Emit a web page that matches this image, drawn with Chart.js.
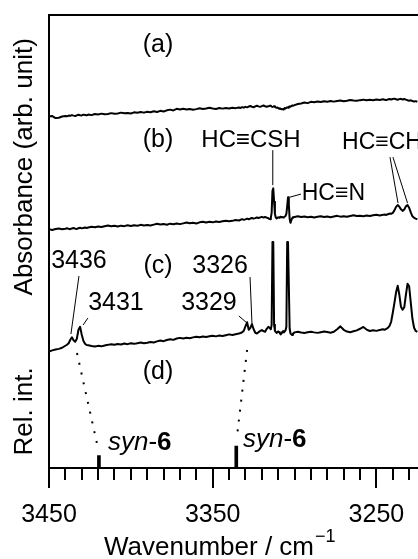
<!DOCTYPE html>
<html>
<head>
<meta charset="utf-8">
<script src="https://cdn.jsdelivr.net/npm/chart.js@4.4.1/dist/chart.umd.min.js"></script>
<style>
  html, body { margin: 0; padding: 0; background: #fff; }
  #wrap { width: 418px; height: 559px; position: relative; }
</style>
</head>
<body>
<div id="wrap"><canvas id="c"></canvas></div>
<script>
// wavenumber grid (cm-1), finer around the bands
var wavenumbers = [
  3450, 3448, 3446, 3444, 3442, 3440,
  3439, 3438, 3437, 3436, 3435, 3434, 3433, 3432, 3431, 3430, 3429, 3428, 3427,
  3426, 3424, 3422, 3420, 3418, 3416, 3414, 3412, 3410, 3408, 3406, 3404, 3402, 3400, 3398, 3396, 3394, 3392, 3390, 3388, 3386, 3384, 3382, 3380, 3378, 3376, 3374, 3372, 3370, 3368, 3366, 3364, 3362, 3360, 3358, 3356, 3354, 3352, 3350, 3348, 3346, 3344, 3342, 3340, 3338, 3336, 3334,
  3333, 3332, 3331, 3330, 3329, 3328, 3327, 3326, 3325, 3324, 3323, 3322, 3321, 3320, 3319, 3318, 3317,
  3316, 3315.5, 3315, 3314.5, 3314, 3313.5, 3313, 3312.5, 3312, 3311.5, 3311, 3310.5, 3310, 3309.5, 3309, 3308.5, 3308, 3307.5, 3307, 3306.5, 3306, 3305.5, 3305, 3304.5, 3304, 3303.5, 3303, 3302.5, 3302, 3301.5, 3301,
  3300, 3298, 3296, 3294, 3292, 3290, 3288, 3286, 3284, 3282, 3280, 3278, 3276, 3274, 3272, 3270, 3268, 3266, 3264, 3262, 3260, 3258, 3256, 3254, 3252, 3250, 3248, 3246,
  3245, 3244, 3243, 3242, 3241, 3240, 3239, 3238, 3237, 3236, 3235, 3234, 3233, 3232, 3231, 3230, 3229, 3228, 3227, 3226, 3225
];

// absorbance traces (arb. unit, before offset)
var absA = [
  8.3, 8.9, 6.9, 7.2, 8.4, 8.9,
  8.6, 9.4, 9.1, 9.8, 9.3, 8.9, 9.6, 10.2, 9.7, 9.5, 10.3, 10.0, 9.6,
  10.4, 9.8, 10.9, 10.5, 11.3, 10.6, 11.0, 11.8, 11.1, 11.5, 12.3, 11.6, 12.0, 11.4, 12.6, 12.1, 12.9, 12.3, 13.1, 12.7, 13.6, 13.0, 14.1, 13.4, 14.6, 15.3, 14.5, 16.1, 15.4, 16.2, 15.5, 16.0, 15.2, 15.8, 16.6, 15.9, 16.4, 17.2, 16.5, 16.0, 16.9, 16.3, 17.0, 16.4, 17.1, 16.8, 17.5,
  17.0, 17.8, 17.3, 18.1, 17.6, 18.4, 18.9, 18.2, 17.7, 18.5, 19.2, 18.6, 18.1, 18.8, 19.4, 18.7, 18.2,
  18.6, 18.9, 19.3, 19.0, 18.4, 18.0, 18.3, 18.7, 18.1, 17.6, 17.2, 17.5, 16.9, 16.3, 16.6, 16.0, 15.6, 15.9, 15.5, 16.2, 16.8, 16.4, 17.1, 17.6, 17.3, 18.0, 18.5, 18.2, 18.9, 19.4, 19.1,
  19.8, 20.9, 21.5, 22.4, 21.8, 23.1, 22.6, 23.4, 22.9, 23.7, 23.2, 24.0, 23.3, 23.9, 24.4, 23.6, 24.2, 25.0, 24.5, 24.1, 24.8, 25.3, 24.6, 25.1, 24.7, 25.5, 25.0, 25.6,
  25.2, 24.8, 25.5, 26.0, 25.4, 25.9, 26.3, 25.7, 25.2, 25.8, 26.1, 25.5, 25.9, 25.3, 24.7, 24.2, 24.6, 23.9, 23.4, 23.8, 23.2
];
var absB = [
  5.6, 4.9, 5.8, 6.3, 5.5, 6.1,
  6.6, 6.0, 5.7, 6.4, 6.9, 6.2, 5.9, 6.6, 7.1, 6.5, 6.8, 7.4, 6.9,
  7.3, 8.1, 7.5, 8.3, 7.8, 8.6, 9.3, 8.5, 9.0, 8.4, 9.2, 8.7, 9.5, 8.9, 9.6, 9.1, 10.0, 9.4, 9.9, 9.3, 10.2, 11.0, 10.3, 10.8, 10.1, 11.2, 10.6, 11.4, 10.7, 11.5, 12.3, 11.6, 12.0, 11.4, 12.5, 13.1, 12.4, 13.0, 12.5, 13.4, 12.8, 13.6, 14.2, 13.5, 14.0, 14.8, 14.3,
  15.1, 15.7, 15.0, 15.5, 16.2, 15.6, 16.3, 16.9, 16.2, 16.7, 17.4, 16.8, 17.5, 18.0, 17.3, 17.8, 17.2,
  16.6, 16.0, 15.7, 17.0, 22.0, 44.0, 46.5, 33.0, 21.0, 17.5, 16.3, 17.0, 17.6, 17.1, 17.8, 18.2, 17.5, 17.9, 17.3, 17.8, 18.3, 18.9, 21.0, 28.5, 37.5, 30.0, 16.0, 12.0, 14.5, 16.8, 17.6,
  17.9, 18.5, 17.8, 18.3, 17.6, 18.1, 17.4, 18.0, 18.6, 17.9, 18.3, 17.7, 18.4, 19.0, 18.2, 18.7, 18.1, 18.9, 19.5, 18.8, 19.2, 18.6, 19.3, 18.9, 19.6, 20.1, 19.4, 20.0,
  20.4, 19.9, 20.6, 21.3, 21.0, 22.0, 24.5, 28.0, 29.8, 28.2, 25.5, 24.0, 25.3, 28.5, 29.8, 27.0, 22.5, 18.5, 17.0, 16.2, 15.6
];
var absC = [
  3.2, 4.4, 5.2, 5.9, 7.0, 9.0,
  10.0, 11.5, 15.0, 17.5, 14.5, 13.0, 16.0, 25.0, 28.0, 20.0, 14.0, 11.0, 9.8,
  9.6, 8.8, 8.2, 8.9, 8.4, 9.3, 9.9, 10.6, 10.0, 10.8, 10.3, 11.2, 10.6, 11.5, 10.9, 11.6, 12.2, 11.5, 12.0, 12.8, 12.3, 13.4, 14.2, 13.6, 14.8, 15.5, 14.9, 16.3, 16.9, 16.2, 17.0, 16.5, 17.4, 18.1, 17.5, 18.3, 17.7, 18.5, 19.1, 18.4, 19.3, 18.8, 19.6, 20.4, 19.8, 20.6, 21.3,
  21.8, 22.5, 24.0, 28.5, 32.5, 25.0, 27.0, 30.5, 25.5, 22.0, 21.3, 22.6, 23.8, 24.7, 23.6, 23.0, 26.0,
  28.0, 27.2, 26.5, 25.5, 30.0, 112.75, 112.75, 30.0, 24.0, 23.0, 21.8, 22.5, 23.4, 22.6, 21.5, 20.4, 21.2, 22.8, 23.6, 22.4, 23.5, 24.5, 28.0, 112.75, 112.75, 112.75, 26.0, 21.5, 20.5, 19.8, 21.0,
  22.4, 23.0, 22.3, 21.7, 22.5, 23.1, 22.4, 21.9, 22.6, 23.3, 22.7, 22.1, 23.0, 25.6, 28.4, 25.0, 23.2, 22.6, 23.5, 24.4, 26.0, 27.8, 25.2, 23.8, 24.6, 23.9, 24.8, 25.5,
  24.9, 25.8, 27.0, 29.0, 33.0, 42.0, 52.0, 62.5, 69.0, 60.0, 48.0, 45.0, 47.5, 60.0, 71.0, 68.5, 52.0, 36.0, 27.0, 23.8, 22.8
];
var offsetA = 230;
var offsetB = 120;
var offsetC = 0;

// (d) calculated stick spectrum
var stickWavenumbers = [3419.5, 3335.6];
var stickIntensity = [0.11, 0.194];

var xTicks = [3450, 3440, 3430, 3420, 3410, 3400, 3390, 3380, 3370, 3360, 3350, 3340, 3330, 3320, 3310, 3300, 3290, 3280, 3270, 3260, 3250, 3240, 3230];
var majorTicks = [3450, 3350, 3250];

// label placements: [text, wavenumber, value, axis, align, size]
var notes = [
  ['(a)', 3383.4, 310, 'y', 'center', 25],
  ['(b)', 3383.4, 215, 'y', 'center', 25],
  ['HC\u2261CSH', 3326.6, 215, 'y', 'center', 24],
  ['HC\u2261N', 3276.3, 160.75, 'y', 'center', 23],
  ['HC\u2261CH', 3271.0, 212.75, 'y', 'left', 23],
  ['(c)', 3383.4, 88.75, 'y', 'center', 25],
  ['3436', 3431.7, 93.75, 'y', 'center', 25],
  ['3431', 3409.1, 51.75, 'y', 'center', 25],
  ['3326', 3345.5, 88.75, 'y', 'center', 25],
  ['3329', 3352.3, 51.75, 'y', 'center', 25],
  ['(d)', 3383.4, 0.848, 'yr', 'center', 25]
];
var leaders = [
  [3313.3, 204.75, 3313.3, 169.75],
  [3302.8, 157.75, 3296.1, 160.75],
  [3241.7, 197.75, 3236.8, 151.75],
  [3239.9, 197.75, 3231.0, 151.75],
  [3431.7, 78.75, 3436.6, 20.75],
  [3426.2, 36.75, 3429.2, 29.75],
  [3327.2, 77.75, 3326.0, 30.75],
  [3334.0, 38.75, 3329.0, 31.75]
];
var dottedLinks = [
  [3432.9, 1.015, 3420.1, 0.177],
  [3329.0, 1.042, 3335.2, 0.274]
];
var synLabels = [[3414.0, 0.221], [3331.5, 0.247]];
var xTitleCenter = 3346;

var family = '"Liberation Sans", "DejaVu Sans", sans-serif';
Chart.defaults.font.family = family;
Chart.defaults.color = '#000';

function makeSeries(values, offset) {
  return wavenumbers.map(function(w, i) { return {x: w, y: values[i] + offset}; });
}

var lineStyle = {type: 'line', borderColor: '#000', borderWidth: 2, pointRadius: 0, tension: 0,
                 borderJoinStyle: 'round', xAxisID: 'x', yAxisID: 'y'};

var annotate = {
  id: 'annotate',
  afterDraw: function(chart) {
    var ctx = chart.ctx;
    var sx = chart.scales.x;
    var X = function(v) { return sx.getPixelForValue(v); };
    var Y = function(v, ax) { return chart.scales[ax].getPixelForValue(v); };
    var bottom = chart.chartArea.bottom;
    ctx.save();
    ctx.strokeStyle = '#000';
    ctx.fillStyle = '#000';

    // long major ticks
    ctx.lineWidth = 2;
    ctx.beginPath();
    majorTicks.forEach(function(v) {
      var px = Math.round(X(v));
      ctx.moveTo(px, bottom);
      ctx.lineTo(px, bottom + 20);
    });
    ctx.stroke();

    // leader lines
    ctx.lineWidth = 1;
    ctx.beginPath();
    leaders.forEach(function(l) {
      ctx.moveTo(X(l[0]), Y(l[1], 'y'));
      ctx.lineTo(X(l[2]), Y(l[3], 'y'));
    });
    ctx.stroke();

    // dotted correlation lines
    ctx.lineWidth = 2;
    ctx.setLineDash([2, 8]);
    ctx.beginPath();
    dottedLinks.forEach(function(l) {
      ctx.moveTo(X(l[0]), Y(l[1], 'yr'));
      ctx.lineTo(X(l[2]), Y(l[3], 'yr'));
    });
    ctx.stroke();
    ctx.setLineDash([]);

    // text labels
    ctx.textBaseline = 'middle';
    notes.forEach(function(n) {
      ctx.font = n[5] + 'px ' + family;
      ctx.textAlign = n[4];
      ctx.fillText(n[0], X(n[1]), Y(n[2], n[3]));
    });

    // syn-6 labels
    ctx.textAlign = 'left';
    synLabels.forEach(function(s) {
      var x = X(s[0]), y = Y(s[1], 'yr');
      ctx.font = 'italic 26px ' + family;
      ctx.fillText('syn', x, y); x += ctx.measureText('syn').width;
      ctx.font = '26px ' + family;
      ctx.fillText('-', x, y); x += ctx.measureText('-').width;
      ctx.font = 'bold 26px ' + family;
      ctx.fillText('6', x, y);
    });

    // x axis title with superscript
    ctx.textBaseline = 'alphabetic';
    ctx.font = '26px ' + family;
    var main = 'Wavenumber / cm';
    var wMain = ctx.measureText(main).width;
    ctx.font = '18px ' + family;
    var wSup = ctx.measureText('\u22121').width;
    var x0 = X(xTitleCenter) - (wMain + wSup) / 2;
    ctx.font = '26px ' + family;
    ctx.fillText(main, x0, 555);
    ctx.font = '18px ' + family;
    ctx.fillText('\u22121', x0 + wMain + 1, 542);
    ctx.restore();
  }
};

function noPad(s) { s.paddingLeft = 0; s.paddingRight = 0; s.paddingTop = 0; s.paddingBottom = 0; }

new Chart(document.getElementById('c'), {
  type: 'line',
  data: {
    datasets: [
      Object.assign({data: makeSeries(absA, offsetA)}, lineStyle),
      Object.assign({data: makeSeries(absB, offsetB)}, lineStyle),
      Object.assign({data: makeSeries(absC, offsetC)}, lineStyle),
      {
        type: 'bar',
        data: stickWavenumbers.map(function(w, i) { return {x: w, y: stickIntensity[i]}; }),
        backgroundColor: '#000', borderWidth: 0, barThickness: 3,
        xAxisID: 'x', yAxisID: 'yr'
      }
    ]
  },
  options: {
    responsive: true,
    maintainAspectRatio: false,
    animation: false,
    layout: {padding: 0, autoPadding: false},
    plugins: {legend: {display: false}, tooltip: {enabled: false}},
    scales: {
      x: {
        type: 'linear', position: 'bottom', reverse: true, min: 3224.6, max: 3450, offset: false,
        grid: {display: true, drawOnChartArea: false, drawTicks: true, tickLength: 12, tickWidth: 2,
               tickColor: '#000', lineWidth: 2, color: '#000', offset: false},
        border: {display: true, width: 2, color: '#000'},
        ticks: {autoSkip: false, maxRotation: 0, minRotation: 0, padding: 20, color: '#000',
                font: {size: 25},
                callback: function(v) { return majorTicks.indexOf(v) >= 0 ? String(v) : ''; }},
        afterBuildTicks: function(s) { s.ticks = xTicks.map(function(v) { return {value: v}; }); },
        afterFit: function(s) { s.height = 91; noPad(s); }
      },
      xTop: {
        type: 'linear', position: 'top', reverse: true, min: 3224.6, max: 3450, display: true,
        grid: {display: false, drawTicks: false},
        border: {display: true, width: 2, color: '#000'},
        ticks: {display: false},
        afterFit: function(s) { s.height = 15; noPad(s); }
      },
      yr: {
        type: 'linear', position: 'left', stack: 'left', stackWeight: 1, min: 0, max: 1,
        grid: {display: false, drawTicks: false},
        border: {display: true, width: 2, color: '#000'},
        ticks: {display: false},
        title: {display: true, text: 'Rel. int.', color: '#000', font: {size: 26}, padding: {top: 9, bottom: 0}},
        afterFit: function(s) { s.width = 49; noPad(s); }
      },
      y: {
        type: 'linear', position: 'left', stack: 'left', stackWeight: 3, min: 0, max: 340,
        grid: {display: false, drawTicks: false},
        border: {display: true, width: 2, color: '#000'},
        ticks: {display: false},
        title: {display: true, text: '     Absorbance (arb. unit)', color: '#000', font: {size: 26}, padding: {top: 9, bottom: 0}},
        afterFit: function(s) { s.width = 49; noPad(s); }
      }
    }
  },
  plugins: [annotate]
});
</script>
</body>
</html>
